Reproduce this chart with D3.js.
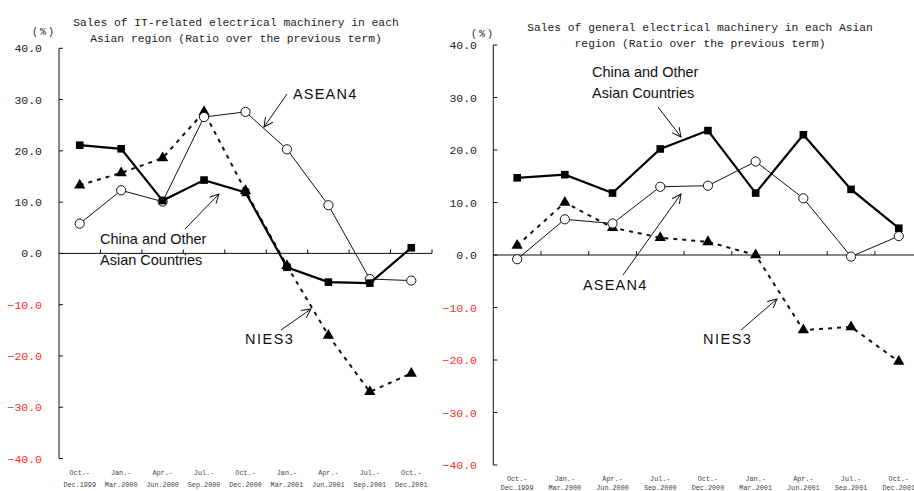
<!DOCTYPE html>
<html lang="en">
<head>
<meta charset="UTF-8">
<title>Sales of electrical machinery in Asian regions</title>
<script src="https://d3js.org/d3.v7.min.js"></script>
<style>
  body { margin: 0; background: #fff; }
  svg { display: block; }
</style>
</head>
<body>
<div id="chart"></div>
<script>
// categories (two-line tick labels)
var periods = ["Oct.-|Dec.1999", "Jan.-|Mar.2000", "Apr.-|Jun.2000", "Jul.-|Sep.2000",
               "Oct.-|Dec.2000", "Jan.-|Mar.2001", "Apr.-|Jun.2001", "Jul.-|Sep.2001", "Oct.-|Dec.2001"];
var yTicks = [-40, -30, -20, -10, 0, 10, 20, 30, 40];

// IT-related electrical machinery (left)
var itChina  = [21.1, 20.4, 10.3, 14.3, 11.9, -2.7, -5.6, -5.8, 1.1];
var itAsean  = [5.8, 12.3, 10.1, 26.6, 27.6, 20.3, 9.4, -5.0, -5.3];
var itNies   = [13.3, 15.7, 18.6, 27.6, 12.2, -2.4, -16.0, -27.0, -23.4];

// general electrical machinery (right)
var genChina = [14.7, 15.3, 11.8, 20.2, 23.7, 11.8, 22.9, 12.5, 5.1];
var genAsean = [-0.8, 6.8, 6.0, 13.0, 13.2, 17.8, 10.8, -0.3, 3.6];
var genNies  = [1.8, 10.0, 5.2, 3.3, 2.5, 0.0, -14.3, -13.7, -20.3];

var W = 914, H = 491;
var svg = d3.select("#chart").append("svg").attr("width", W).attr("height", H);

var defs = svg.append("defs");
defs.append("marker")
    .attr("id", "openArrow")
    .attr("viewBox", "-10 -6 12 12")
    .attr("refX", 0).attr("refY", 0)
    .attr("markerWidth", 12).attr("markerHeight", 12)
    .attr("markerUnits", "userSpaceOnUse")
    .attr("orient", "auto")
    .append("path")
    .attr("d", "M-9,-4.5 L0,0 L-9,4.5")
    .attr("fill", "none").attr("stroke", "#111").attr("stroke-width", 1);

var mono = "'Liberation Mono', 'DejaVu Sans Mono', monospace";
var sans = "'Liberation Sans', Arial, sans-serif";

function drawPanel(p) {
    var g = svg.append("g");

    var x = d3.scaleBand().domain(periods).range(p.xRange);
    var y = d3.scaleLinear().domain([-40, 40]).range(p.yRange);
    var cx = function(i) { return x(periods[i]) + x.bandwidth() / 2; };

    // title
    var t = g.append("text")
        .attr("text-anchor", "middle")
        .attr("font-family", mono).attr("font-size", 11.3)
        .attr("fill", "#222");
    p.title.forEach(function(line, i) {
        t.append("tspan").attr("x", p.titleX).attr("y", p.titleY + i * 16).text(line);
    });

    g.append("text")
        .attr("x", p.pctX).attr("y", p.pctY)
        .attr("font-family", mono).attr("font-size", 10)
        .attr("letter-spacing", 2)
        .attr("fill", "#222")
        .text("(%)");

    // y axis
    var x0 = p.xRange[0];
    g.append("line")
        .attr("x1", x0).attr("x2", x0)
        .attr("y1", y(40)).attr("y2", y(-40))
        .attr("stroke", "#111").attr("stroke-width", 1);
    g.selectAll(".ytick").data(yTicks).enter().append("line")
        .attr("x1", x0).attr("x2", x0 + 4)
        .attr("y1", function(d) { return y(d); })
        .attr("y2", function(d) { return y(d); })
        .attr("stroke", "#111");
    g.selectAll(".ylab").data(yTicks).enter().append("text")
        .attr("x", p.labelX)
        .attr("y", function(d) { return y(d) + 4; })
        .attr("text-anchor", "end")
        .attr("font-family", mono).attr("font-size", 11.5)
        .attr("fill", function(d) { return d < 0 ? "#ff2a2a" : "#222"; })
        .text(function(d) { return d3.format(".1f")(d); });

    // zero line with ticks at band edges
    g.append("line")
        .attr("x1", x0).attr("x2", Math.min(p.xRange[1], W))
        .attr("y1", y(0)).attr("y2", y(0))
        .attr("stroke", "#111");
    g.selectAll(".xtick").data(d3.range(1, periods.length + 1)).enter().append("line")
        .attr("x1", function(i) { return x0 + i * x.step(); })
        .attr("x2", function(i) { return x0 + i * x.step(); })
        .attr("y1", y(0)).attr("y2", y(0) - 4)
        .attr("stroke", "#111");

    // x labels
    var xl = g.selectAll(".xlab").data(periods).enter().append("text")
        .attr("text-anchor", "middle")
        .attr("font-family", mono).attr("font-size", 6.8)
        .attr("fill", "#444");
    xl.append("tspan")
        .attr("x", function(d) { return x(d) + x.bandwidth() / 2; })
        .attr("y", p.xLabY)
        .text(function(d) { return d.split("|")[0]; });
    xl.append("tspan")
        .attr("x", function(d) { return x(d) + x.bandwidth() / 2; })
        .attr("y", p.xLabY + p.xLabGap)
        .text(function(d) { return d.split("|")[1]; });

    var line = d3.line()
        .x(function(d, i) { return cx(i); })
        .y(function(d) { return y(d); });

    // NIES3 - dashed with triangles
    g.append("path").datum(p.nies)
        .attr("d", line).attr("fill", "none")
        .attr("stroke", "#111").attr("stroke-width", 2)
        .attr("stroke-dasharray", "4,5");
    g.selectAll(".tri").data(p.nies).enter().append("path")
        .attr("d", d3.symbol().type(d3.symbolTriangle).size(55))
        .attr("transform", function(d, i) { return "translate(" + cx(i) + "," + y(d) + ")"; })
        .attr("fill", "#000");

    // ASEAN4 - thin with open circles
    g.append("path").datum(p.asean)
        .attr("d", line).attr("fill", "none")
        .attr("stroke", "#111").attr("stroke-width", 1);
    g.selectAll(".circ").data(p.asean).enter().append("circle")
        .attr("cx", function(d, i) { return cx(i); })
        .attr("cy", function(d) { return y(d); })
        .attr("r", 4.6)
        .attr("fill", "#fff").attr("stroke", "#111").attr("stroke-width", 1);

    // China and Other - thick with squares
    g.append("path").datum(p.china)
        .attr("d", line).attr("fill", "none")
        .attr("stroke", "#000").attr("stroke-width", 2.2);
    g.selectAll(".sq").data(p.china).enter().append("rect")
        .attr("x", function(d, i) { return cx(i) - 3.8; })
        .attr("y", function(d) { return y(d) - 3.8; })
        .attr("width", 7.6).attr("height", 7.6)
        .attr("fill", "#000");

    // annotations
    p.notes.forEach(function(n) {
        var tx = g.append("text")
            .attr("font-family", sans).attr("font-size", 14.5)
            .attr("letter-spacing", n.ls || 0)
            .attr("fill", "#111");
        n.lines.forEach(function(s, i) {
            tx.append("tspan").attr("x", n.x).attr("y", n.y + i * 21).text(s);
        });
        g.append("line")
            .attr("x1", n.a[0]).attr("y1", n.a[1])
            .attr("x2", n.a[2]).attr("y2", n.a[3])
            .attr("stroke", "#111").attr("stroke-width", 1)
            .attr("marker-end", "url(#openArrow)");
    });
}

drawPanel({
    xRange: [59, 432], yRange: [458.5, 48.3],
    title: ["Sales of IT-related electrical machinery in each",
            "Asian region (Ratio over the previous term)"],
    titleX: 236, titleY: 26,
    pctX: 32, pctY: 35, labelX: 42, xLabY: 475, xLabGap: 12,
    china: itChina, asean: itAsean, nies: itNies,
    notes: [
        {lines: ["ASEAN4"], x: 293, y: 99, ls: 1.2, a: [287, 94, 264, 127]},
        {lines: ["China and Other", "Asian Countries"], x: 100, y: 244, a: [185, 229, 219, 194]},
        {lines: ["NIES3"], x: 245, y: 344, ls: 1.5, a: [281, 330, 311, 309]}
    ]
});

drawPanel({
    xRange: [493.3, 922.6], yRange: [465, 45],
    title: ["Sales of general electrical machinery in each Asian",
            "region (Ratio over the previous term)"],
    titleX: 700, titleY: 31,
    pctX: 471, pctY: 37, labelX: 477, xLabY: 481, xLabGap: 9,
    china: genChina, asean: genAsean, nies: genNies,
    notes: [
        {lines: ["China and Other", "Asian Countries"], x: 592, y: 77, a: [658, 107, 681, 137]},
        {lines: ["ASEAN4"], x: 583, y: 290, ls: 1.2, a: [623, 275, 681, 194]},
        {lines: ["NIES3"], x: 703, y: 344, ls: 1.5, a: [741, 330, 777, 299]}
    ]
});
</script>
</body>
</html>
